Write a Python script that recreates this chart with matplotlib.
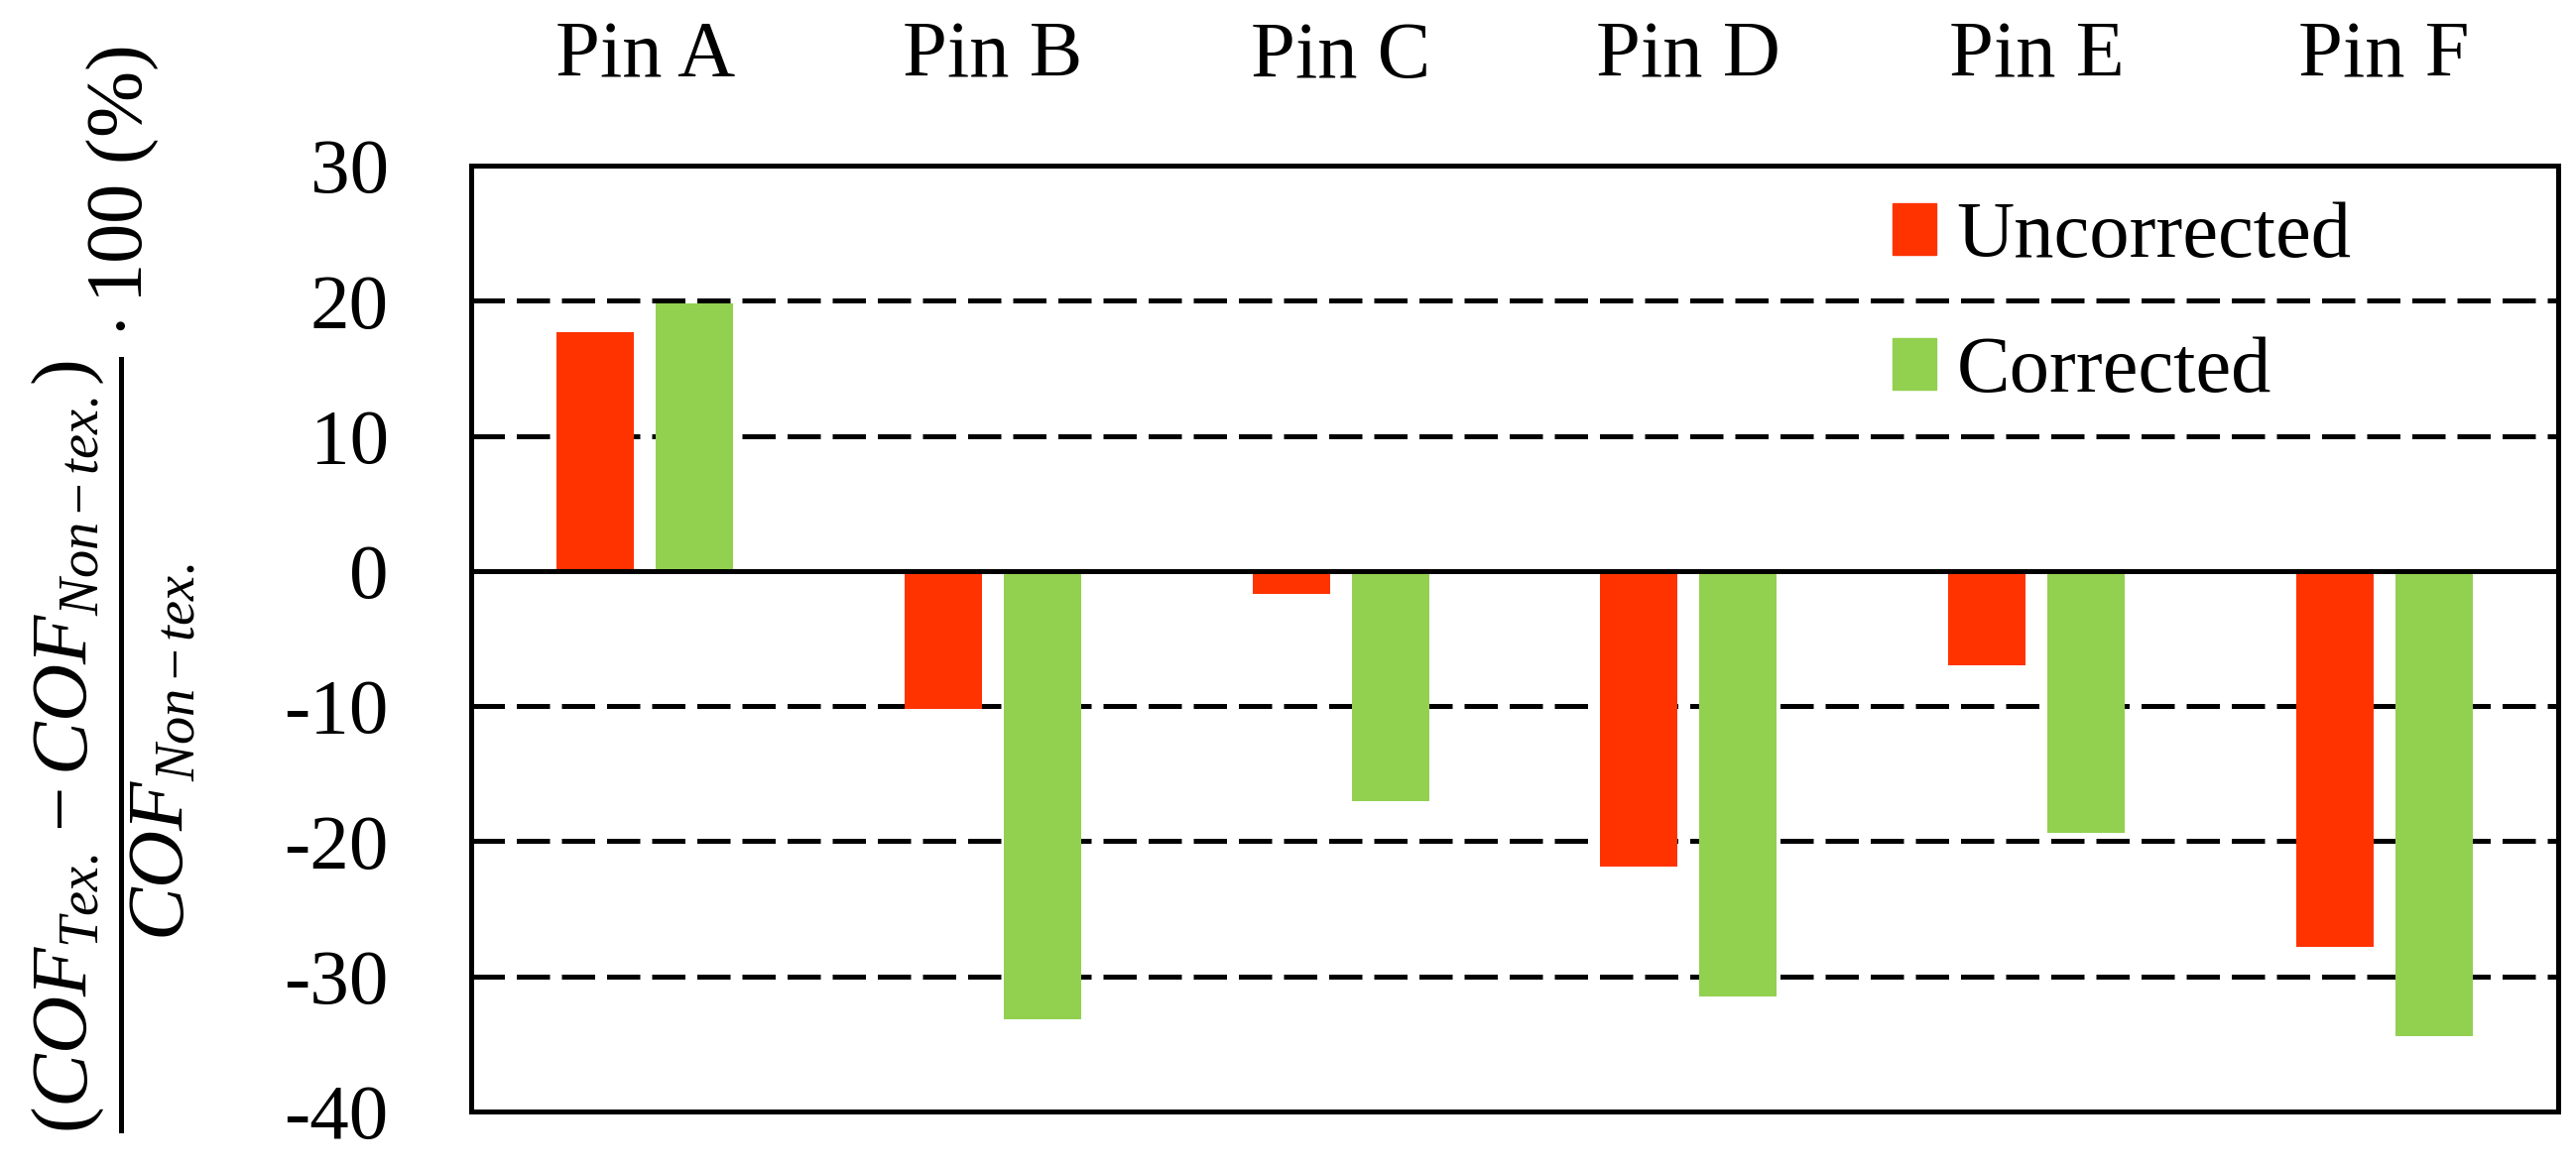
import numpy as np
import matplotlib
matplotlib.use("Agg")
import matplotlib.pyplot as plt
from matplotlib.patches import Patch

pinos = ["Pin A", "Pin B", "Pin C", "Pin D", "Pin E", "Pin F"]
uncorrected = [17.7, -10.2, -1.7, -21.9, -7.0, -27.8]
corrected = [19.8, -33.2, -17.0, -31.5, -19.4, -34.4]
y_ticks = [30, 20, 10, 0, -10, -20, -30, -40]

cor_unc = "#FF3300"
cor_cor = "#92D050"

plt.rcParams["font.family"] = ["Liberation Serif", "DejaVu Serif"]
plt.rcParams["mathtext.fontset"] = "custom"
plt.rcParams["mathtext.rm"] = "Liberation Serif"
plt.rcParams["mathtext.it"] = "Liberation Serif:italic"
plt.rcParams["mathtext.bf"] = "Liberation Serif:bold"

def grafico():
    fig = plt.figure(figsize=(25.97, 11.78), dpi=100)
    ax = fig.add_axes([0.1829, 0.0484, 0.8102, 0.8098])

    x = np.arange(len(pinos))
    larg = 0.222
    desl = 0.1426

    # grade tracejada
    for t in y_ticks:
        if t in (30, 0, -40):
            continue
        ax.axhline(t, color="black", lw=3.6, dashes=(6.7, 2.4), zorder=1)

    ax.bar(x - desl, uncorrected, larg, color=cor_unc, zorder=2)
    ax.bar(x + desl, corrected, larg, color=cor_cor, zorder=2)
    ax.axhline(0, color="black", lw=3.6, zorder=3)

    ax.set_xlim(-0.5, len(pinos) - 0.5)
    ax.set_ylim(-40, 30)
    ax.set_yticks(y_ticks)
    ax.set_yticklabels([str(t) for t in y_ticks])
    ax.set_xticks(x)
    ax.set_xticklabels(pinos)
    ax.xaxis.tick_top()
    ax.tick_params(axis="x", length=0, pad=52, labelsize=58)
    ax.tick_params(axis="y", length=0, pad=60, labelsize=57)

    for s in ax.spines.values():
        s.set_linewidth(3.6)
        s.set_zorder(4)

    fig.text(0.044, 0.495,
             r"$\dfrac{(COF_{Tex.}-COF_{Non-tex.})}{COF_{Non-tex.}}\cdot\mathrm{100\ (\%)}$",
             rotation=90, ha="center", va="center", fontsize=58)

    handles = [Patch(color=cor_unc, label="Uncorrected"),
               Patch(color=cor_cor, label="Corrected")]
    ax.legend(handles=handles, loc="upper left", bbox_to_anchor=(0.681, 0.962),
              frameon=False, fontsize=58, handlelength=0.55, handleheight=0.62,
              handletextpad=0.25, labelspacing=0.78, borderpad=0, borderaxespad=0)

    fig.savefig("out.png", dpi=100)

if __name__ == "__main__":
    grafico()
